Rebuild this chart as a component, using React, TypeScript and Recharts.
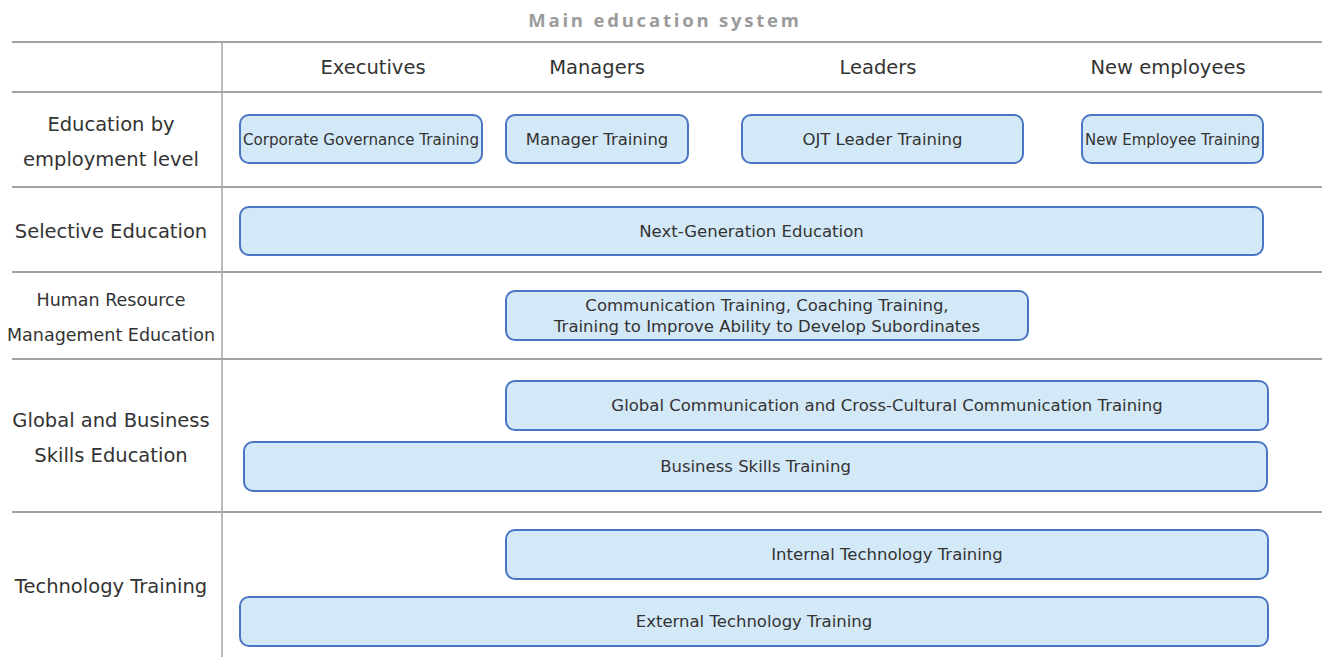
import { ComposedChart, XAxis, YAxis, ReferenceLine, ReferenceArea, ReferenceDot } from "recharts";

const title = "Main education system";

// column headers (x in chart units, 0 = divider line)
const levels = ["Executives", "Managers", "Leaders", "New employees"];
const levelCenters = [151, 375, 656, 946];

// row headers and row separators (y in chart units, 0 = top rule)
const categories = [
  "Education by\nemployment level",
  "Selective Education",
  "Human Resource\nManagement Education",
  "Global and Business\nSkills Education",
  "Technology Training",
];
const rowLines = [0, 50, 145, 230, 317, 470];
const rowEnd = 615;

// training programs and the span they cover
const programs = [
  "Corporate Governance Training",
  "Manager Training",
  "OJT Leader Training",
  "New Employee Training",
  "Next-Generation Education",
  "Communication Training, Coaching Training,\nTraining to Improve Ability to Develop Subordinates",
  "Global Communication and Cross-Cultural Communication Training",
  "Business Skills Training",
  "Internal Technology Training",
  "External Technology Training",
];
const programStart = [18, 284, 520, 860, 18, 284, 284, 22, 284, 18];
const programEnd = [260, 466, 801, 1041, 1041, 806, 1046, 1045, 1046, 1046];
const programTop = [73, 73, 73, 73, 165, 249, 339, 400, 488, 555];
const programBottom = [121, 121, 121, 121, 213, 298, 388, 449, 537, 604];

const FONT = "'DejaVu Sans', Verdana, sans-serif";
const TEXT = "#333333";
const RULE = "#a3a3a3";
const BOX_FILL = "#d3e9f8";
const BOX_STROKE = "#4a74c4";

const rowMids = categories.map((_, i) => {
  const top = rowLines[i + 1];
  const bottom = i + 2 < rowLines.length ? rowLines[i + 2] : rowEnd;
  return (top + bottom) / 2;
});

const MultiText = ({ cx, cy, text, size, lineHeight, fit }: any) => {
  const lines = String(text).split("\n");
  return (
    <g>
      {lines.map((line, i) => {
        const guess = line.length * size * 0.58;
        const squeeze = fit && guess > fit ? fit : undefined;
        return (
          <text
            key={i}
            x={cx}
            y={cy + (i - (lines.length - 1) / 2) * lineHeight}
            textAnchor="middle"
            dominantBaseline="central"
            fontFamily={FONT}
            fontSize={size}
            fill={TEXT}
            textLength={squeeze}
            lengthAdjust={squeeze ? "spacingAndGlyphs" : undefined}
          >
            {line}
          </text>
        );
      })}
    </g>
  );
};

const ProgramBox = (label: string) => (props: any) => {
  const { x, y, width, height } = props;
  return (
    <g>
      <rect
        x={x}
        y={y}
        width={width}
        height={height}
        rx={9}
        ry={9}
        fill={BOX_FILL}
        stroke={BOX_STROKE}
        strokeWidth={2}
      />
      <MultiText
        cx={x + width / 2}
        cy={y + height / 2}
        text={label}
        size={16.5}
        lineHeight={21}
        fit={width - 6}
      />
    </g>
  );
};

export default function App() {
  const chartData = programs.map((name, i) => ({
    name,
    start: programStart[i],
    end: programEnd[i],
  }));

  return (
    <div style={{ position: "absolute", left: 0, top: 0, width: 1322, height: 657, background: "#fff" }}>
      <div
        style={{
          position: "absolute",
          top: 7,
          left: 4,
          width: 1322,
          textAlign: "center",
          fontFamily: "'Open Sans', sans-serif",
          fontWeight: 700,
          fontSize: 18.5,
          letterSpacing: 2.8,
          color: "#9b9b9b",
        }}
      >
        {title}
      </div>
      <ComposedChart
        width={1322}
        height={657}
        data={chartData}
        margin={{ top: 42, right: 0, bottom: 0, left: 12 }}
      >
        <XAxis type="number" dataKey="start" domain={[-210, 1100]} hide allowDataOverflow />
        <YAxis type="number" domain={[0, rowEnd]} reversed hide allowDataOverflow />

        {/* table rules */}
        {rowLines.map((v) => (
          <ReferenceLine key={`r${v}`} y={v} stroke={RULE} strokeWidth={2} />
        ))}
        <ReferenceLine x={0} stroke={RULE} strokeWidth={1.5} />

        {/* column headers */}
        {levels.map((name, i) => (
          <ReferenceDot
            key={name}
            x={levelCenters[i]}
            y={25}
            r={0}
            shape={(p: any) => (
              <MultiText cx={p.cx} cy={p.cy} text={name} size={19.5} lineHeight={35} />
            )}
          />
        ))}

        {/* row headers */}
        {categories.map((name, i) => {
          const longest = Math.max(...name.split("\n").map((s) => s.length));
          return (
            <ReferenceDot
              key={name}
              x={-111}
              y={rowMids[i]}
              r={0}
              shape={(p: any) => (
                <MultiText
                  cx={p.cx}
                  cy={p.cy + 2}
                  text={name}
                  size={longest > 19 ? 17.5 : 19.5}
                  lineHeight={35}
                />
              )}
            />
          );
        })}

        {/* programs */}
        {programs.map((name, i) => (
          <ReferenceArea
            key={name}
            x1={programStart[i]}
            x2={programEnd[i]}
            y1={programTop[i]}
            y2={programBottom[i]}
            shape={ProgramBox(name)}
          />
        ))}
      </ComposedChart>
    </div>
  );
}
